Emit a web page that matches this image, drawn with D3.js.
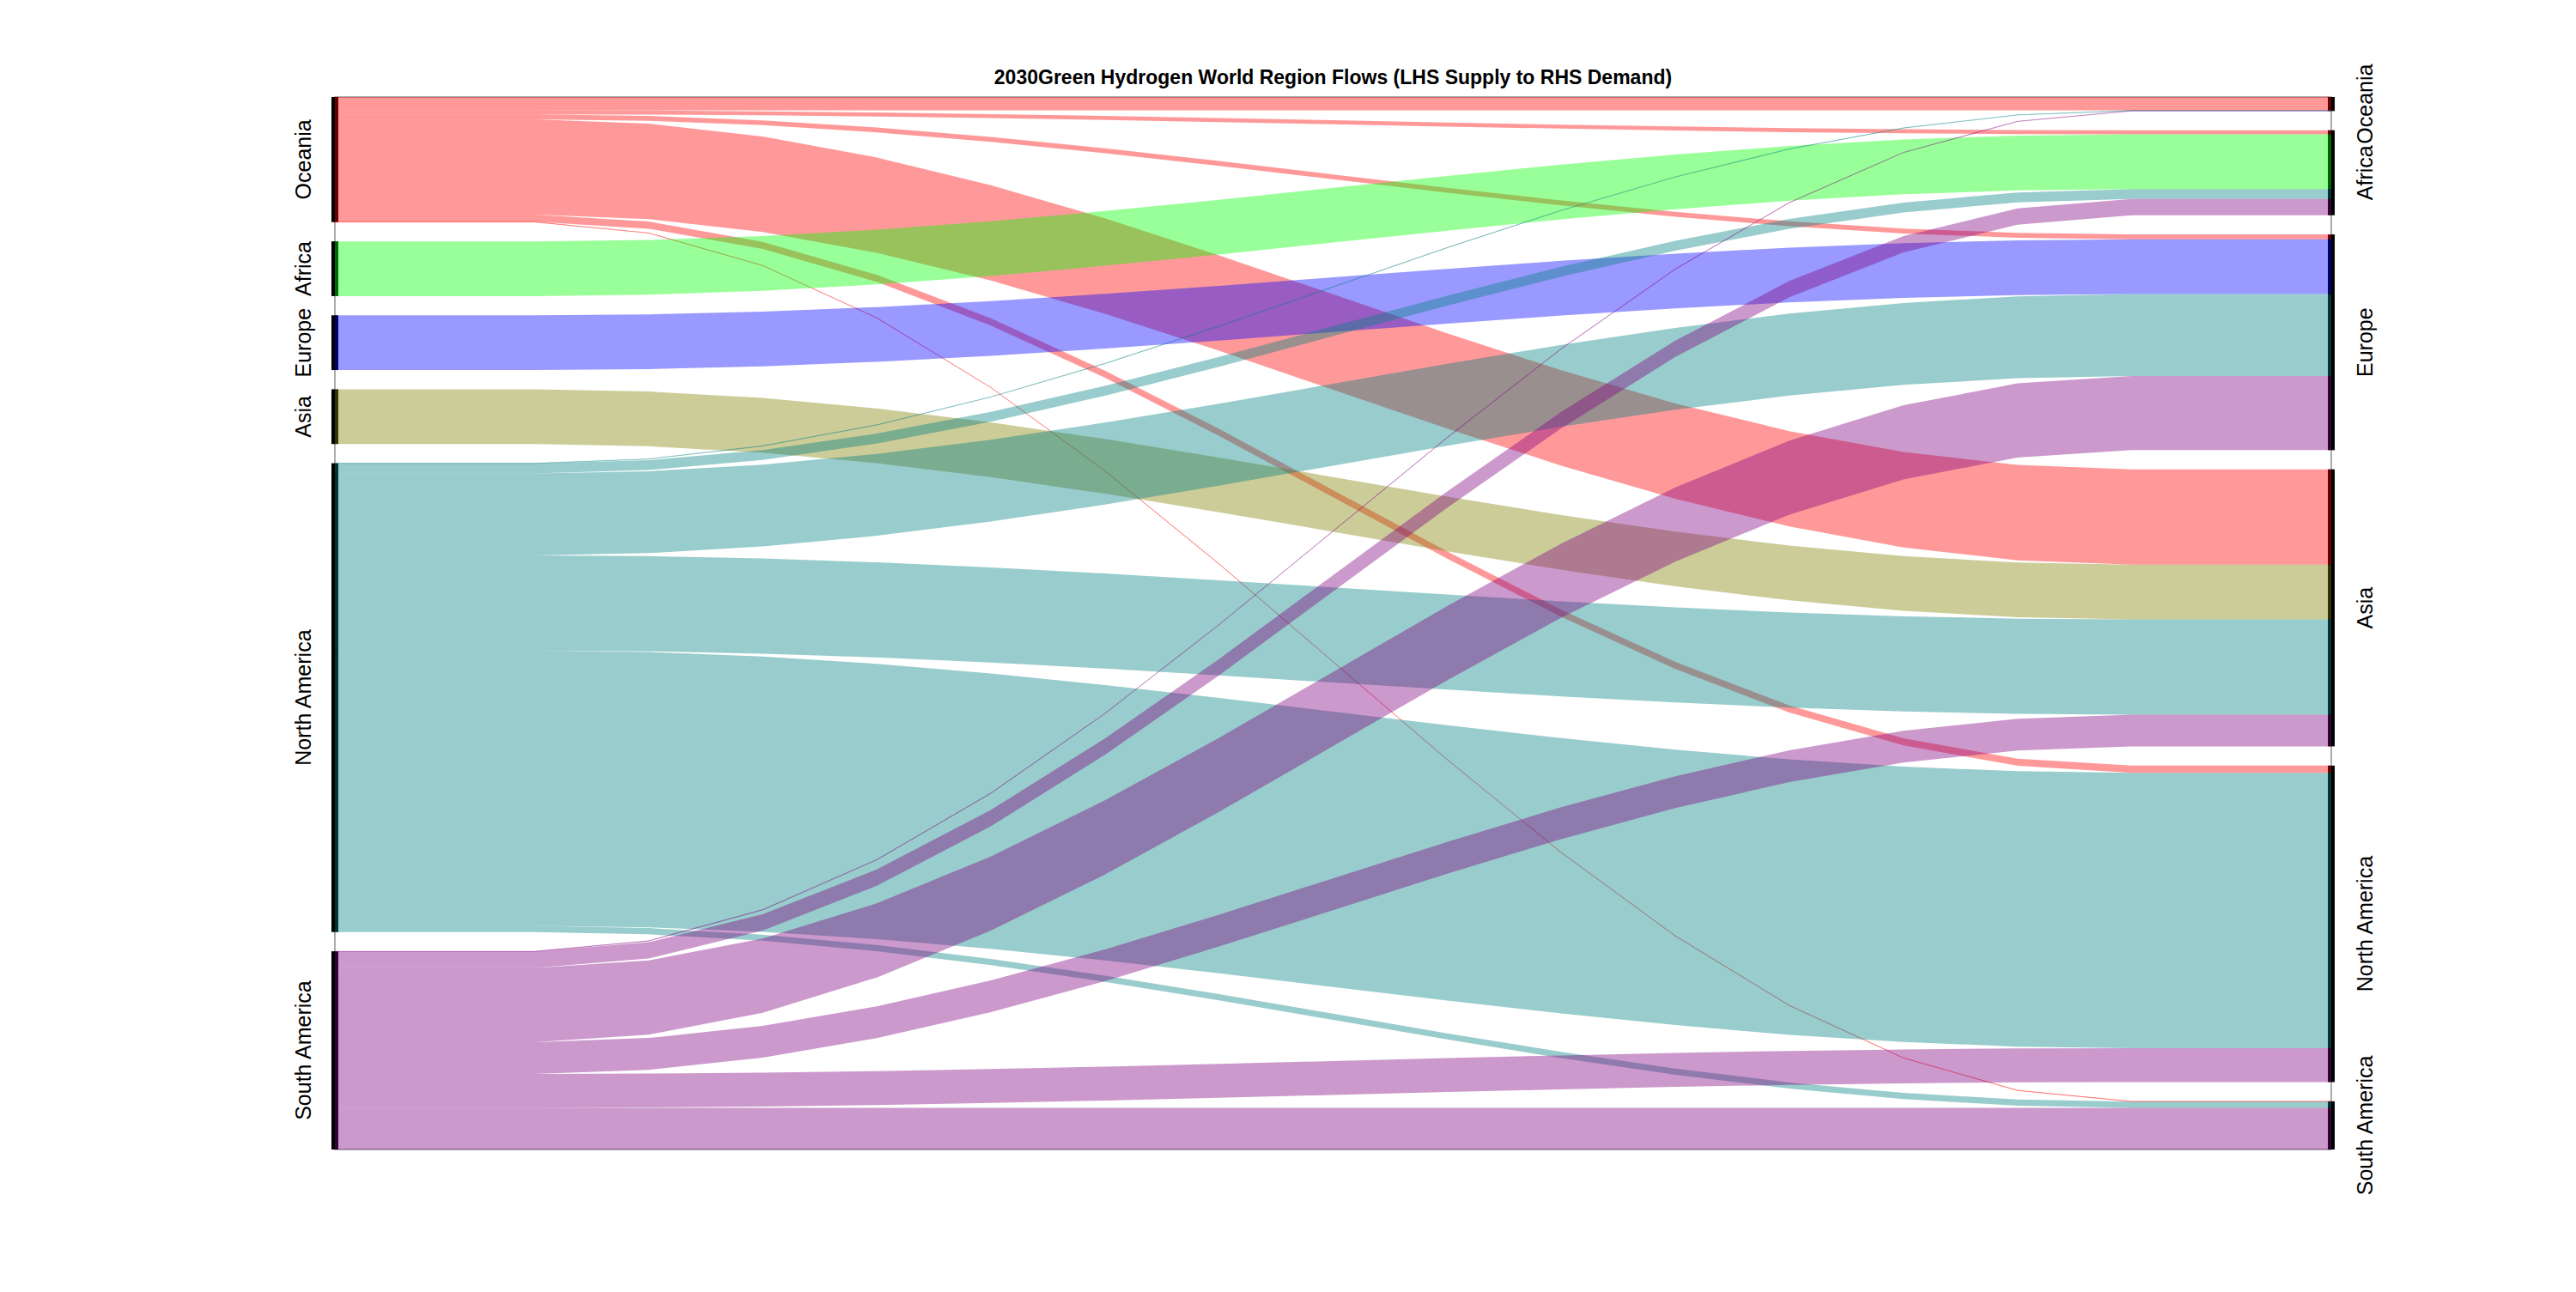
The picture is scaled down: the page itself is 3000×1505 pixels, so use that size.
<!DOCTYPE html>
<html>
<head>
<meta charset="utf-8">
<script src="https://cdn.jsdelivr.net/npm/d3@7"></script>
<style>
  html, body { margin: 0; padding: 0; background: #fff; }
  text { font-family: "Liberation Sans", Arial, sans-serif; fill: #000; }
</style>
</head>
<body>
<svg id="chart" width="3000" height="1505"></svg>
<script>
// regions, same order on the supply (left) and demand (right) side
const regions = ['Oceania', 'Africa', 'Europe', 'Asia', 'North America', 'South America'];

// flows from one supply region to each demand region (order = regions)
const fromOceania      = [15.5, 4.7, 5.7, 111.0, 8.3, 0.4];
const fromAfrica       = [0, 63.7, 0, 0, 0, 0];
const fromEurope       = [0, 0, 63.7, 0, 0, 0];
const fromAsia         = [0, 0, 0, 63.7, 0, 0];
const fromNorthAmerica = [0.4, 11.5, 95.3, 110.7, 320.5, 7.2];
const fromSouthAmerica = [0.4, 19.0, 86.3, 37.0, 39.5, 48.5];

const regionColors = ['#ff0000', '#00ff00', '#0000ff', '#808000', '#008080', '#800080'];
const chartTitle = '2030Green Hydrogen World Region Flows (LHS Supply to RHS Demand)';

const flows = [fromOceania, fromAfrica, fromEurope, fromAsia, fromNorthAmerica, fromSouthAmerica];

const svg = d3.select('#chart');
const plot = { left: 390, right: 2715, top: 113, bottom: 1339, gap: 22.4, barW: 8 };
const n = regions.length;

const total = d3.sum(flows.flat());
const supply = flows.map(row => d3.sum(row));
const demand = regions.map((_, j) => d3.sum(flows, row => row[j]));

const yScale = d3.scaleLinear()
  .domain([0, total])
  .range([0, plot.bottom - plot.top - plot.gap * (n - 1)]);
const xScale = d3.scaleLinear().domain([0, 1]).range([plot.left, plot.right]);

// stack nodes top to bottom
function stackNodes (sizes) {
  let cum = 0;
  return sizes.map((v, i) => {
    const y0 = plot.top + yScale(cum) + i * plot.gap;
    cum += v;
    return { y0, y1: y0 + yScale(v), used: 0 };
  });
}
const leftNodes = stackNodes(supply);
const rightNodes = stackNodes(demand);

// curve knots: flat ends, cosine blend over the middle 80%
const segs = 14;
const knotT = [0].concat(d3.range(segs + 1).map(k => 0.1 + 0.8 * k / segs), [1]);
const knotF = [0].concat(d3.range(segs + 1).map(k => (1 - Math.cos(Math.PI * k / segs)) / 2), [1]);

const links = [];
flows.forEach((row, i) => {
  row.forEach((v, j) => {
    if (v <= 0) return;
    const s0 = leftNodes[i].y0 + yScale(leftNodes[i].used);
    leftNodes[i].used += v;
    links.push({ i, j, v, s0, s1: s0 + yScale(v) });
  });
});
// right side: arrivals ordered by source
regions.forEach((_, j) => {
  links.filter(l => l.j === j).sort((a, b) => a.i - b.i).forEach(l => {
    l.t0 = rightNodes[j].y0 + yScale(rightNodes[j].used);
    rightNodes[j].used += l.v;
    l.t1 = l.t0 + yScale(l.v);
  });
});

const area = d3.area()
  .x(d => xScale(d.t))
  .y0(d => d.a)
  .y1(d => d.b)
  .curve(d3.curveLinear);

// frame
svg.append('rect')
  .attr('x', plot.left).attr('y', plot.top)
  .attr('width', plot.right - plot.left).attr('height', plot.bottom - plot.top)
  .attr('fill', 'none').attr('stroke', '#808080').attr('stroke-width', 1.3);

// node bars
const bars = svg.append('g');
leftNodes.forEach(nd => {
  bars.append('rect').attr('x', plot.left - plot.barW / 2).attr('y', nd.y0)
    .attr('width', plot.barW).attr('height', nd.y1 - nd.y0).attr('fill', '#000');
});
rightNodes.forEach(nd => {
  bars.append('rect').attr('x', plot.right - plot.barW / 2).attr('y', nd.y0)
    .attr('width', plot.barW).attr('height', nd.y1 - nd.y0).attr('fill', '#000');
});

// flows
svg.append('g').selectAll('path')
  .data(links)
  .join('path')
  .attr('d', l => area(knotT.map((t, k) => ({
    t,
    a: l.s0 + (l.t0 - l.s0) * knotF[k],
    b: l.s1 + (l.t1 - l.s1) * knotF[k]
  }))))
  .attr('fill', l => regionColors[l.i])
  .attr('fill-opacity', 0.4)
  .attr('stroke', l => l.v < 1 ? regionColors[l.i] : 'none')
  .attr('stroke-opacity', 0.35)
  .attr('stroke-width', 0.7);

// labels
const labels = svg.append('g').attr('font-size', 25);
leftNodes.forEach((nd, i) => {
  labels.append('text')
    .attr('transform', `translate(362,${(nd.y0 + nd.y1) / 2}) rotate(-90)`)
    .attr('text-anchor', 'middle')
    .text(regions[i]);
});
rightNodes.forEach((nd, i) => {
  labels.append('text')
    .attr('transform', `translate(2763,${(nd.y0 + nd.y1) / 2}) rotate(-90)`)
    .attr('text-anchor', 'middle')
    .text(regions[i]);
});

svg.append('text')
  .attr('x', (plot.left + plot.right) / 2)
  .attr('y', 98)
  .attr('text-anchor', 'middle')
  .attr('font-size', 23)
  .attr('font-weight', 'bold')
  .text(chartTitle);
</script>
</body>
</html>
